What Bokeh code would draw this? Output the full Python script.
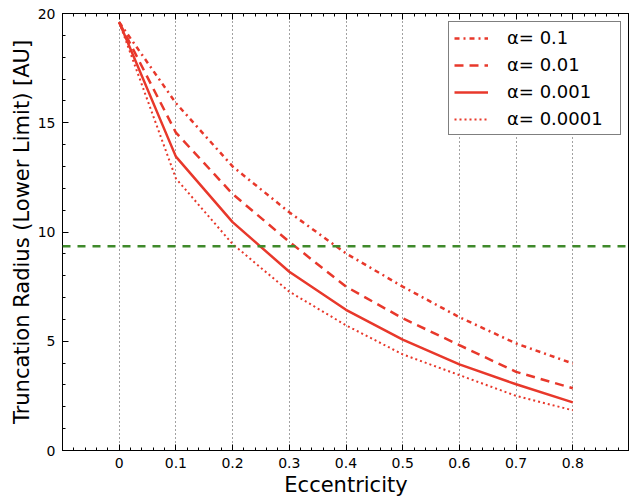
from bokeh.plotting import figure
from bokeh.models import Legend, LegendItem, Span, FixedTicker, LinearAxis, Range1d
from bokeh.embed import file_html
from bokeh.resources import INLINE

# ---- data ----
ecc = [0.0, 0.1, 0.2, 0.3, 0.4, 0.5, 0.6, 0.7, 0.8]
r_alpha_1e1 = [19.6, 15.9, 13.0, 10.9, 9.02, 7.5, 6.1, 4.9, 3.98]
r_alpha_1e2 = [19.6, 14.55, 11.74, 9.55, 7.5, 6.05, 4.82, 3.6, 2.85]
r_alpha_1e3 = [19.6, 13.45, 10.45, 8.18, 6.44, 5.07, 3.94, 3.03, 2.2]
r_alpha_1e4 = [19.6, 12.45, 9.45, 7.27, 5.73, 4.4, 3.45, 2.5, 1.84]
labels = ["α= 0.1", "α= 0.01", "α= 0.001", "α= 0.0001"]
green_level = 9.35

x_ticks = [0, 0.1, 0.2, 0.3, 0.4, 0.5, 0.6, 0.7, 0.8]
x_tick_labels = ["0", "0.1", "0.2", "0.3", "0.4", "0.5", "0.6", "0.7", "0.8"]
x_minor = [round(-0.1 + 0.02 * i, 2) for i in range(51)]
y_ticks = [0, 5, 10, 15, 20]
y_minor = list(range(0, 21))

FONT = "DejaVu Sans"
RED = "#e8382b"
GREEN = "#3f8a2b"

p = figure(width=629, height=499, x_range=Range1d(-0.1, 0.9), y_range=Range1d(0, 20),
           output_backend="svg", toolbar_location=None,
           min_border_left=62, min_border_right=0, min_border_top=13, min_border_bottom=46)
p.background_fill_color = "white"
p.border_fill_color = "white"
p.outline_line_color = "black"
p.outline_line_width = 1

xt = FixedTicker(ticks=x_ticks, minor_ticks=x_minor)
yt = FixedTicker(ticks=y_ticks, minor_ticks=y_minor)

def style_axis(ax, ticker):
    ax.ticker = ticker
    ax.axis_line_color = "black"
    ax.major_tick_in = 6
    ax.major_tick_out = 0
    ax.minor_tick_in = 3
    ax.minor_tick_out = 0
    ax.major_tick_line_color = "black"
    ax.minor_tick_line_color = "black"
    ax.major_label_text_font = FONT
    ax.major_label_text_font_size = "14px"
    ax.major_label_text_color = "black"
    ax.axis_label_text_font = FONT
    ax.axis_label_text_font_size = "21px"
    ax.axis_label_text_font_style = "normal"
    ax.axis_label_text_color = "black"

style_axis(p.xaxis[0], xt)
style_axis(p.yaxis[0], yt)
p.xaxis[0].axis_label = "Eccentricity"
p.yaxis[0].axis_label = "Truncation Radius (Lower Limit) [AU]"
p.xaxis[0].major_label_overrides = {v: s for v, s in zip(x_ticks, x_tick_labels)}
p.xaxis[0].major_label_standoff = 7
p.xaxis[0].axis_label_standoff = 2
p.yaxis[0].major_label_standoff = 7
p.yaxis[0].axis_label_standoff = 1

top = LinearAxis()
style_axis(top, xt)
top.major_label_overrides = {v: "" for v in x_ticks}
top.major_label_standoff = 0
p.add_layout(top, "above")

p.xgrid.ticker = xt
p.xgrid.grid_line_color = "#444444"
p.xgrid.grid_line_dash = "1 3"
p.xgrid.grid_line_width = 1
p.ygrid.grid_line_color = None

p.add_layout(Span(location=green_level, dimension="width", line_color=GREEN,
                  line_width=2.5, line_dash="8 7"))

r1 = p.line(ecc, r_alpha_1e1, line_color=RED, line_width=2.5, line_dash="5 4 2 4")
r2 = p.line(ecc, r_alpha_1e2, line_color=RED, line_width=2.5, line_dash="9 6")
r3 = p.line(ecc, r_alpha_1e3, line_color=RED, line_width=2.5)
r4 = p.line(ecc, r_alpha_1e4, line_color=RED, line_width=2, line_dash="2 3")

legend = Legend(items=[LegendItem(label=l, renderers=[r]) for l, r in zip(labels, [r1, r2, r3, r4])],
                location="top_right", margin=8, padding=5, spacing=6,
                label_text_font=FONT, label_text_font_size="18px", label_text_color="black",
                glyph_width=34, glyph_height=20, label_height=20, label_width=108,
                label_standoff=19,
                border_line_color="black", border_line_width=1, background_fill_alpha=1.0)
p.add_layout(legend, "center")

open("out.html", "w").write(file_html(p, INLINE))
